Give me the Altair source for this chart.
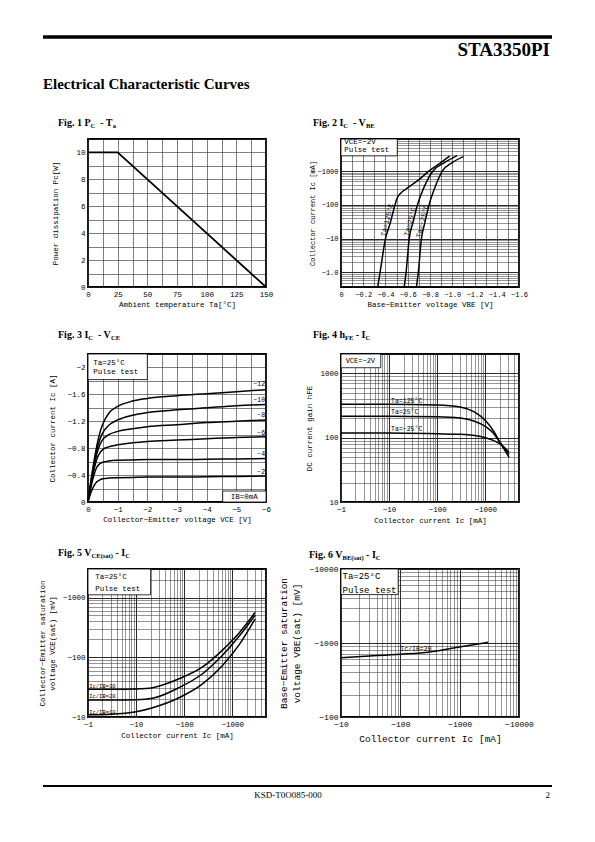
import altair as alt
import pandas as pd

MONO = "Liberation Mono"
SERIF = "Liberation Serif"
M = "\u2212"

# ---------------- data ----------------
# Fig.1  Pc - Ta
F1_TA = [0, 25, 150]
F1_PC = [10, 10, 0]

# Fig.2  Ic - VBE  (VCE=-2V)
F2_SERIES = ["Ta=125°C", "Ta=25°C", "Ta=" + M + "25°C"]
F2_VBE = [
    [-0.33, -0.351, -0.40, -0.445, -0.485, -0.50, -0.52, -0.55, -0.604, -0.70, -0.789, -0.872, -0.976],
    [-0.568, -0.585, -0.613, -0.648, -0.687, -0.74, -0.825, -0.93, -1.044],
    [-0.678, -0.695, -0.723, -0.755, -0.791, -0.84, -0.91, -1.0, -1.10],
]
F2_IC = [
    [0.37, 1, 10, 31, 100, 145, 195, 245, 330, 560, 1000, 1560, 2800],
    [0.37, 1, 10, 31, 100, 300, 1000, 1800, 2900],
    [0.37, 1, 10, 31, 100, 300, 1000, 1800, 2700],
]
F2_LABEL_V = [-0.417, -0.622, -0.733]
F2_LABEL_I = [36, 32, 33]

# Fig.3  Ic - VCE
F3_VCE = [0, -0.1, -0.2, -0.3, -0.4, -0.5, -0.7, -1.0, -1.5, -2, -3, -4, -5, -6]
F3_IB = [M + "12", M + "10", M + "8", M + "6", M + "4", M + "2"]
F3_IC = [
    [0, -0.32, -0.60, -0.84, -1.03, -1.16, -1.32, -1.42, -1.50, -1.54, -1.58, -1.61, -1.64, -1.67],
    [0, -0.30, -0.56, -0.78, -0.93, -1.03, -1.14, -1.22, -1.29, -1.33, -1.37, -1.40, -1.43, -1.45],
    [0, -0.28, -0.52, -0.72, -0.85, -0.93, -1.00, -1.05, -1.09, -1.12, -1.15, -1.18, -1.20, -1.22],
    [0, -0.26, -0.48, -0.64, -0.73, -0.78, -0.82, -0.85, -0.88, -0.90, -0.92, -0.94, -0.96, -0.97],
    [0, -0.22, -0.40, -0.52, -0.57, -0.59, -0.61, -0.62, -0.625, -0.63, -0.63, -0.635, -0.64, -0.645],
    [0, -0.14, -0.24, -0.30, -0.33, -0.345, -0.355, -0.36, -0.365, -0.37, -0.37, -0.375, -0.38, -0.385],
]
F3_LABEL_IC = [-1.76, -1.51, -1.29, -1.02, -0.71, -0.45]

# Fig.4  hFE - Ic
F4_SERIES = ["Ta=125°C", "Ta=25°C", "Ta=" + M + "25°C"]
F4_IC = [1, 10, 100, 300, 600, 1000, 1500, 2000, 3100]
F4_HFE = [
    [330, 330, 322, 300, 250, 185, 125, 85, 50],
    [215, 215, 212, 203, 180, 150, 115, 85, 55],
    [118, 118, 115, 113, 108, 100, 90, 80, 60],
]
F4_LABEL_HFE = [375, 251, 138]

# Fig.5  VCE(sat) - Ic
F5_SERIES = ["Ic/IB=30", "Ic/IB=20", "Ic/IB=10"]
F5_IC = [1, 3, 10, 22, 78, 240, 630, 1380, 2960]
F5_VCE = [
    [29, 29, 29.5, 31, 43.6, 68.8, 133, 255, 560],
    [19.3, 19.3, 19.5, 20.6, 31, 53, 109, 224, 505],
    [10.9, 11.1, 12.2, 14.3, 21, 35.8, 73.6, 161, 433],
]
F5_LABEL_V = [32.6, 22.3, 12.2]

# Fig.6  VBE(sat) - Ic
F6_IC = [10, 30, 100, 313, 870, 3020]
F6_VBE = [632, 665, 705, 758, 870, 1020]

W, H = 178, 148

# Times-bold advance widths (per 1000 em) for placing subscripts
TB = {" ": 250, ".": 250, "-": 333, "(": 333, ")": 333, "F": 611, "P": 611, "C": 722,
      "T": 667, "V": 722, "E": 667, "B": 667, "I": 389, "a": 500, "g": 500, "h": 556,
      "i": 278, "s": 389, "t": 333}


def tbw(s, size):
    return sum(TB.get(c, 500) for c in s) * size / 1000.0


def txt(text, x, y, size, font=SERIF, weight="normal", align="left"):
    return alt.Chart(pd.DataFrame({"t": [text]})).mark_text(
        align=align, baseline="alphabetic", font=font, fontWeight=weight,
        fontSize=size, color="black"
    ).encode(x=alt.value(x), y=alt.value(y), text="t:N")


def fig_title(parts, x0, y0):
    out = []
    x = x0
    for s, sub in parts:
        size = 6.5 if sub else 10
        lead = len(s) - len(s.lstrip())
        x += lead * 250 * size / 1000.0
        core = s.strip()
        out.append(txt(core, x, y0 + (2 if sub else 0), size, weight="bold"))
        x += tbw(core, size)
    return out


def prule(x1, x2, y, w):
    return alt.Chart(pd.DataFrame({"a": [0]})).mark_rule(color="black", strokeWidth=w).encode(
        x=alt.value(x1), x2=alt.value(x2), y=alt.value(y))


def mk_axis(title, values, expr, lfs=7.5, tfs=7.5, lp=3, tp=4, strong=None, tlh=None):
    kw = dict(title=title, values=values, labelExpr=expr, grid=True, gridColor="#2a2a2a",
              gridWidth=0.6, ticks=False, domain=False, labelFont=MONO, labelFontSize=lfs,
              labelColor="black", titleFont=MONO, titleFontSize=tfs, titleFontWeight="normal",
              titleColor="black", labelPadding=lp, titlePadding=tp, labelFlush=False,
              labelOverlap=False, tickCount=500)
    if strong:
        kw["gridWidth"] = {"condition": {"test": strong, "value": 1.0}, "value": 0.5}
    if tlh:
        kw["titleLineHeight"] = tlh
    return alt.Axis(**kw)


def logvals(lo, hi):
    vals = []
    for e in range(-1, 5):
        for m in range(1, 10):
            v = round(m * 10 ** e, 6)
            if lo <= v <= hi:
                vals.append(v)
    return vals


def box(df, xs, ys):
    return alt.Chart(df).mark_rect(fill="white", stroke="black", strokeWidth=0.8).encode(
        x=alt.X("x0:Q", scale=xs), x2="x1:Q", y=alt.Y("y0:Q", scale=ys), y2="y1:Q")


def dtext(df, xs, ys, size, align="left", angle=0, font=MONO):
    return alt.Chart(df).mark_text(align=align, baseline="middle", font=font, fontSize=size,
                                   color="black", angle=angle).encode(
        x=alt.X("x:Q", scale=xs), y=alt.Y("y:Q", scale=ys), text="t:N")


LINE = dict(color="black", strokeWidth=1.5)

# ---------------- Fig 1 ----------------
x1s = alt.Scale(domain=[0, 150], nice=False)
y1s = alt.Scale(domain=[0, 11], nice=False)
df1 = pd.DataFrame({"ta": F1_TA, "pc": F1_PC})
f1_line = alt.Chart(df1).mark_line(color="black", strokeWidth=1.8).encode(
    x=alt.X("ta:Q", scale=x1s, axis=mk_axis("Ambient temperature Ta[°C]",
                                            [i * 12.5 for i in range(13)],
                                            "datum.value % 25 == 0 ? '' + datum.value : ''", tp=3)),
    y=alt.Y("pc:Q", scale=y1s, axis=mk_axis("Power dissipation Pc[W]", list(range(12)),
                                            "datum.value % 2 == 0 && datum.value <= 10 ? '' + datum.value : ''",
                                            tp=16)))
header = [
    prule(-45, 464, -102, 3.5),
    txt("STA3350PI", 462, -83, 19, weight="bold", align="right"),
    txt("Electrical Characteristic Curves", -45, -50, 15, weight="bold"),
]
fig1 = alt.layer(f1_line, *header,
                 *fig_title([("Fig. 1 P", 0), ("C", 1), ("  - T", 0), ("a", 1)], -30, -13)
                 ).properties(width=W, height=H)

# ---------------- Fig 2 ----------------
x2s = alt.Scale(domain=[0, -1.6], nice=False, zero=False)
y2s = alt.Scale(type="log", domain=[0.37, 9000], nice=False)
rows = []
for s, vs, ics in zip(F2_SERIES, F2_VBE, F2_IC):
    for i, (v, c) in enumerate(zip(vs, ics)):
        rows.append({"s": s, "i": i, "v": v, "ic": c})
df2 = pd.DataFrame(rows)
x2_vals = [round(-0.1 * i, 1) for i in range(17)]
f2_line = alt.Chart(df2).mark_line(interpolate="monotone", **LINE).encode(
    x=alt.X("v:Q", scale=x2s, axis=mk_axis("Base" + M + "Emitter voltage VBE [V]", x2_vals,
            "round(abs(datum.value)*10) % 2 == 0 ? (datum.value == 0 ? '0' : '" + M +
            "' + format(abs(datum.value), '.1f')) : ''", lfs=7, tp=3)),
    y=alt.Y("ic:Q", scale=y2s, axis=mk_axis("Collector current Ic [mA]", logvals(0.37, 9000),
            "datum.value == 1 ? '" + M + "1.0' : ((datum.value == 10 || datum.value == 100 || datum.value == 1000) ? '" + M + "' + datum.value : '')",
            lfs=7, tfs=7, tp=1, strong="datum.value == 1 || datum.value == 10 || datum.value == 100 || datum.value == 1000")),
    detail="s:N", order="i:Q")
f2_box = box(pd.DataFrame({"x0": [0], "x1": [-0.506], "y0": [2850], "y1": [9000]}), x2s, y2s)
f2_btxt = dtext(pd.DataFrame({"x": [-0.03, -0.03], "y": [7180, 4240],
                              "t": ["VCE=" + M + "2V", "Pulse test"]}), x2s, y2s, 7.5)
f2_lbl = dtext(pd.DataFrame({"x": F2_LABEL_V, "y": F2_LABEL_I, "t": F2_SERIES}), x2s, y2s, 7,
               align="center", angle=284)
fig2 = alt.layer(f2_line, f2_box, f2_btxt, f2_lbl,
                 *fig_title([("Fig. 2 I", 0), ("C", 1), ("  - V", 0), ("BE", 1)], -28, -13)
                 ).properties(width=W, height=H)

# ---------------- Fig 3 ----------------
x3s = alt.Scale(domain=[0, -6], nice=False, zero=False)
y3s = alt.Scale(domain=[0, -2.2], nice=False, zero=False)
rows = []
for s, ics in zip(F3_IB, F3_IC):
    for i, (v, c) in enumerate(zip(F3_VCE, ics)):
        rows.append({"s": s, "i": i, "v": v, "ic": c})
df3 = pd.DataFrame(rows)
f3_line = alt.Chart(df3).mark_line(interpolate="monotone", **LINE).encode(
    x=alt.X("v:Q", scale=x3s, axis=mk_axis("Collector" + M + "Emitter voltage VCE [V]",
            [round(-0.5 * i, 1) for i in range(13)],
            "datum.value == 0 ? '0' : (datum.value % 1 == 0 ? '" + M + "' + abs(datum.value) : '')",
            tp=3)),
    y=alt.Y("ic:Q", scale=y3s, axis=mk_axis("Collector current Ic [A]",
            [round(-0.2 * i, 1) for i in range(12)],
            "(round(abs(datum.value)*10) % 4 == 0 && abs(datum.value) < 2.05) ? (datum.value == 0 ? '0' : '" + M +
            "' + format(abs(datum.value), '.1~f')) : ''", tp=10)),
    detail="s:N", order="i:Q")
f3_box = box(pd.DataFrame({"x0": [0, -4.54], "x1": [-2.0, -6], "y0": [-2.2, 0], "y1": [-1.82, -0.163]}),
             x3s, y3s)
f3_btxt = dtext(pd.DataFrame({"x": [-0.18, -0.18], "y": [-2.06, -1.93],
                              "t": ["Ta=25°C", "Pulse test"]}), x3s, y3s, 7.5)
f3_ib = dtext(pd.DataFrame({"x": [-5.27], "y": [-0.08], "t": ["IB=0mA"]}), x3s, y3s, 7.5,
              align="center")
f3_lbl = dtext(pd.DataFrame({"x": [-5.97] * 6, "y": F3_LABEL_IC, "t": F3_IB}), x3s, y3s, 6.5,
               align="right")
fig3 = alt.layer(f3_line, f3_box, f3_btxt, f3_ib, f3_lbl,
                 *fig_title([("Fig. 3 I", 0), ("C", 1), ("  - V", 0), ("CE", 1)], -30, -16)
                 ).properties(width=W, height=H)

# ---------------- Fig 4 ----------------
x4s = alt.Scale(type="log", domain=[1, 5000], nice=False)
y4s = alt.Scale(type="log", domain=[10, 2000], nice=False)
rows = []
for s, hs in zip(F4_SERIES, F4_HFE):
    for i, (c, h) in enumerate(zip(F4_IC, hs)):
        rows.append({"s": s, "i": i, "ic": c, "h": h})
df4 = pd.DataFrame(rows)
dec = "datum.value == 1 || datum.value == 10 || datum.value == 100 || datum.value == 1000 || datum.value == 10000"
f4_line = alt.Chart(df4).mark_line(interpolate="monotone", **LINE).encode(
    x=alt.X("ic:Q", scale=x4s, axis=mk_axis("Collector current Ic [mA]", logvals(1, 5000),
            "(" + dec + ") ? '" + M + "' + datum.value : ''", tp=4, strong=dec)),
    y=alt.Y("h:Q", scale=y4s, axis=mk_axis("DC current gain hFE", logvals(10, 2000),
            "(" + dec + ") ? '' + datum.value : ''", tp=6, strong=dec)),
    detail="s:N")
f4_box = box(pd.DataFrame({"x0": [1], "x1": [6.7], "y0": [1224], "y1": [2000]}), x4s, y4s)
f4_btxt = dtext(pd.DataFrame({"x": [1.25], "y": [1560], "t": ["VCE=" + M + "2V"]}), x4s, y4s, 7)
f4_lbl = dtext(pd.DataFrame({"x": [11, 11, 11], "y": F4_LABEL_HFE, "t": F4_SERIES}), x4s, y4s, 6.5)
fig4 = alt.layer(f4_line, f4_box, f4_btxt, f4_lbl,
                 *fig_title([("Fig. 4 h", 0), ("FE", 1), (" - I", 0), ("C", 1)], -28, -16)
                 ).properties(width=W, height=H)

# ---------------- Fig 5 ----------------
x5s = alt.Scale(type="log", domain=[1, 5000], nice=False)
y5s = alt.Scale(type="log", domain=[10, 3000], nice=False)
rows = []
for s, vs in zip(F5_SERIES, F5_VCE):
    for i, (c, v) in enumerate(zip(F5_IC, vs)):
        rows.append({"s": s, "i": i, "ic": c, "v": v})
df5 = pd.DataFrame(rows)
f5_line = alt.Chart(df5).mark_line(interpolate="monotone", **LINE).encode(
    x=alt.X("ic:Q", scale=x5s, axis=mk_axis("Collector current Ic [mA]", logvals(1, 5000),
            "(" + dec + ") ? '" + M + "' + datum.value : ''", tp=4, strong=dec)),
    y=alt.Y("v:Q", scale=y5s, axis=mk_axis(["Collector" + M + "Emitter saturation",
                                             "voltage VCE(sat) [mV]"], logvals(10, 3000),
            "(" + dec + ") ? '" + M + "' + datum.value : ''", tp=6, strong=dec, tlh=10)),
    detail="s:N")
f5_box = box(pd.DataFrame({"x0": [1], "x1": [20], "y0": [1110], "y1": [3000]}), x5s, y5s)
f5_btxt = dtext(pd.DataFrame({"x": [1.42, 1.42], "y": [2230, 1410],
                              "t": ["Ta=25°C", "Pulse test"]}), x5s, y5s, 7.5)
f5_lbl = dtext(pd.DataFrame({"x": [1.06] * 3, "y": F5_LABEL_V, "t": F5_SERIES}), x5s, y5s, 5.5)
footer = [
    prule(-45, 464, 217, 1.8),
    txt("KSD-T0O085-000", 200, 228.7, 9, align="center"),
    txt("2", 462, 228.7, 9, align="right"),
]
fig5 = alt.layer(f5_line, f5_box, f5_btxt, f5_lbl, *footer,
                 *fig_title([("Fig. 5 V", 0), ("CE(sat)", 1), (" - I", 0), ("C", 1)], -30, -13)
                 ).properties(width=W, height=H)

# ---------------- Fig 6 ----------------
x6s = alt.Scale(type="log", domain=[10, 10000], nice=False)
y6s = alt.Scale(type="log", domain=[100, 10000], nice=False)
df6 = pd.DataFrame({"ic": F6_IC, "v": F6_VBE})
f6_line = alt.Chart(df6).mark_line(interpolate="monotone", **LINE).encode(
    x=alt.X("ic:Q", scale=x6s, axis=mk_axis("Collector current Ic [mA]", logvals(10, 10000),
            "(" + dec + ") ? '" + M + "' + datum.value : ''", lfs=8, tfs=9.5, tp=5, strong=dec)),
    y=alt.Y("v:Q", scale=y6s, axis=mk_axis(["Base" + M + "Emitter saturation",
                                             "voltage VBE(sat) [mV]"], logvals(100, 10000),
            "(" + dec + ") ? '" + M + "' + datum.value : ''", lfs=8, tfs=9.5, tp=8, strong=dec,
            tlh=13)))
f6_box = box(pd.DataFrame({"x0": [10], "x1": [92], "y0": [4510], "y1": [10000]}), x6s, y6s)
f6_btxt = dtext(pd.DataFrame({"x": [10.6, 10.6], "y": [8070, 5280],
                              "t": ["Ta=25°C", "Pulse test"]}), x6s, y6s, 9)
f6_lbl = dtext(pd.DataFrame({"x": [100], "y": [826], "t": ["Ic/IB=20"]}), x6s, y6s, 6.5)
fig6 = alt.layer(f6_line, f6_box, f6_btxt, f6_lbl,
                 *fig_title([("Fig. 6 V", 0), ("BE(sat)", 1), (" - I", 0), ("C", 1)], -32, -11)
                 ).properties(width=W, height=H)

chart = alt.concat(fig1, fig2, fig3, fig4, fig5, fig6, columns=2,
                   spacing={"row": 67, "column": 75}, bounds="flush").properties(
    padding={"left": 29, "top": 26, "right": 5, "bottom": 5}, background="white"
).configure_view(stroke="black", strokeWidth=1.8)

chart.save("out.html", embed_options={"renderer": "svg", "actions": False})
